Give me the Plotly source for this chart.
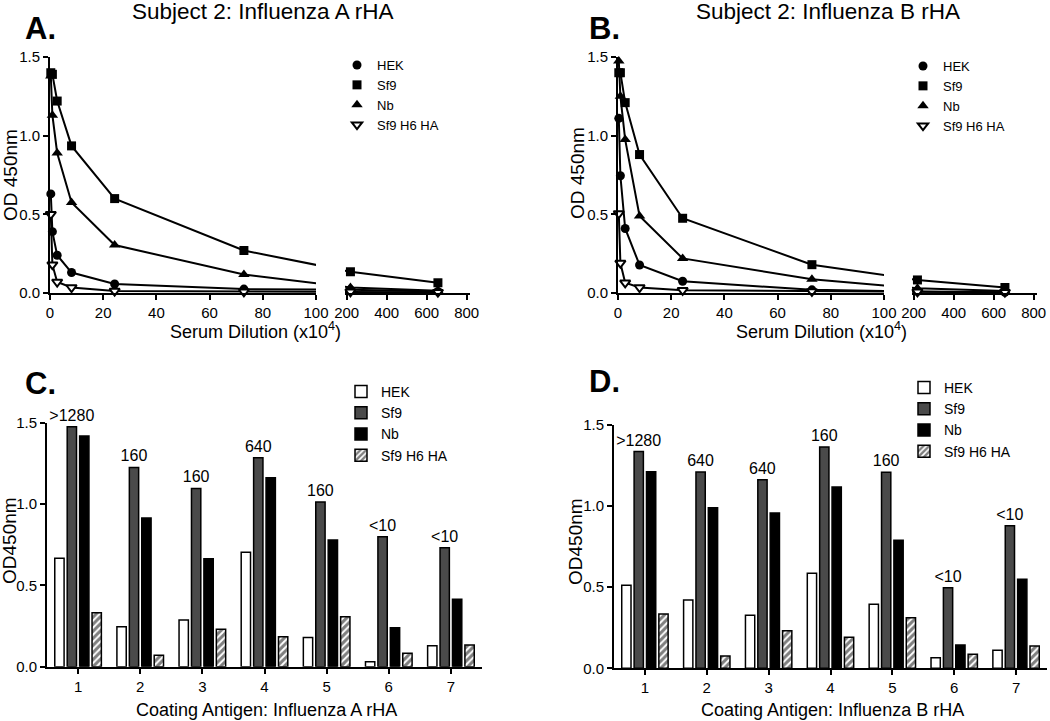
import plotly.graph_objects as go

W, H = 1050, 721
FONT = "Liberation Sans, Arial, Helvetica, sans-serif"

# ---- data: dilution curves (x10^4) ----
dilution = [0.3, 0.9, 2.7, 8.1, 24.3, 72.9, 218.7, 656.1]

a_hek = [0.63, 0.39, 0.24, 0.13, 0.057, 0.025, 0.02, 0.01]
a_sf9 = [1.40, 1.39, 1.22, 0.935, 0.60, 0.27, 0.135, 0.065]
a_nb = [1.38, 1.13, 0.89, 0.575, 0.305, 0.117, 0.035, 0.015]
a_h6 = [0.50, 0.18, 0.07, 0.035, 0.012, 0.008, 0.008, 0.005]

b_hek = [1.11, 0.745, 0.41, 0.178, 0.075, 0.02, 0.01, 0.005]
b_sf9 = [1.40, 1.40, 1.21, 0.88, 0.475, 0.18, 0.083, 0.035]
b_nb = [1.475, 1.25, 0.975, 0.49, 0.22, 0.087, 0.03, 0.012]
b_h6 = [0.505, 0.19, 0.065, 0.035, 0.017, 0.01, 0.008, 0.005]

# ---- data: coating antigen bars ----
antigens = [1, 2, 3, 4, 5, 6, 7]
c_hek = [0.666, 0.246, 0.287, 0.703, 0.18, 0.031, 0.129]
c_sf9 = [1.475, 1.225, 1.096, 1.285, 1.012, 0.799, 0.731]
c_nb = [1.418, 0.914, 0.664, 1.162, 0.779, 0.24, 0.414]
c_h6 = [0.332, 0.07, 0.23, 0.184, 0.307, 0.082, 0.133]
c_titer = [">1280", "160", "160", "640", "160", "<10", "<10"]

d_hek = [0.512, 0.421, 0.327, 0.586, 0.395, 0.065, 0.111]
d_sf9 = [1.336, 1.21, 1.163, 1.364, 1.208, 0.497, 0.879]
d_nb = [1.212, 0.99, 0.957, 1.118, 0.789, 0.144, 0.549]
d_h6 = [0.335, 0.076, 0.232, 0.191, 0.312, 0.086, 0.137]
d_titer = [">1280", "640", "640", "160", "160", "<10", "<10"]

series = ["HEK", "Sf9", "Nb", "Sf9 H6 HA"]
SF9_GREY = "#4a4a4a"


def xdom(a, b):
    return [a / W, b / W]


def ydom(top, bottom):
    return [1 - bottom / H, 1 - top / H]


SEG1_RANGE = [0, 100]
SEG2_RANGE = [191.5, 816.5]

# panel layout in pixels: (seg1 left, seg1 right, seg2 left, seg2 right)
panels = {
    "A": dict(seg=(50, 316, 345, 470), ax=("x", "x2"), yax="y", legend="legend",
              data=[a_hek, a_sf9, a_nb, a_h6]),
    "B": dict(seg=(618, 884, 912, 1037), ax=("x3", "x4"), yax="y2", legend="legend2",
              data=[b_hek, b_sf9, b_nb, b_h6]),
}

markers = [
    dict(symbol="circle", size=9, color="black"),
    dict(symbol="square", size=9, color="black"),
    dict(symbol="triangle-up", size=10, color="black"),
    dict(symbol="triangle-down", size=9, color="white", line=dict(color="black", width=2)),
]

fig = go.Figure()


def broken_positions(seg, values):
    """GraphPad-style broken axis: lines are straight in screen space across the gap."""
    p0, p1, q0, q1 = seg
    k1 = (p1 - p0) / (SEG1_RANGE[1] - SEG1_RANGE[0])
    k2 = (q1 - q0) / (SEG2_RANGE[1] - SEG2_RANGE[0])
    px = [p0 + v * k1 if v <= SEG1_RANGE[1] else q0 + (v - SEG2_RANGE[0]) * k2 for v in values]
    u1 = [(p - p0) / k1 for p in px]
    u2 = [SEG2_RANGE[0] + (p - q0) / k2 for p in px]
    return u1, u2


for key, pan in panels.items():
    xa1, xa2 = pan["ax"]
    u1, u2 = broken_positions(pan["seg"], dilution)
    for name, vals in zip(series, pan["data"]):
        for xa, u in ((xa1, u1), (xa2, u2)):
            fig.add_trace(go.Scatter(x=u, y=vals, mode="lines", xaxis=xa, yaxis=pan["yax"],
                                     line=dict(color="black", width=2), showlegend=False,
                                     hoverinfo="skip"))
    for name, vals, mk in zip(series, pan["data"], markers):
        lo = [(d, v) for d, v in zip(dilution, vals) if d <= 100]
        hi = [(d, v) for d, v in zip(dilution, vals) if d > 100]
        fig.add_trace(go.Scatter(x=[d for d, _ in lo], y=[v for _, v in lo], mode="markers",
                                 xaxis=xa1, yaxis=pan["yax"], marker=mk, name=name,
                                 legend=pan["legend"], cliponaxis=False))
        fig.add_trace(go.Scatter(x=[d for d, _ in hi], y=[v for _, v in hi], mode="markers",
                                 xaxis=xa2, yaxis=pan["yax"], marker=mk, name=name,
                                 showlegend=False, cliponaxis=False))

bar_styles = [
    dict(color="white", line=dict(color="black", width=1.5)),
    dict(color=SF9_GREY, line=dict(color="black", width=1.5)),
    dict(color="black", line=dict(color="black", width=1.5)),
    dict(color="white", line=dict(color="black", width=1.5),
         pattern=dict(shape="/", fgcolor="black", bgcolor="white", size=5, solidity=0.6)),
]

for xa, ya, leg, data, titer in (("x5", "y3", "legend3", [c_hek, c_sf9, c_nb, c_h6], c_titer),
                                 ("x6", "y4", "legend4", [d_hek, d_sf9, d_nb, d_h6], d_titer)):
    for i, (name, vals, st) in enumerate(zip(series, data, bar_styles)):
        kw = {}
        if name == "Sf9":
            kw = dict(text=titer, textposition="outside", constraintext="none",
                      textfont=dict(size=16, color="black", family=FONT), cliponaxis=False)
        fig.add_trace(go.Bar(x=antigens, y=vals, name=name, marker=st, xaxis=xa, yaxis=ya,
                             legend=leg, offsetgroup=str(i), **kw))

axis_common = dict(showline=True, linecolor="black", linewidth=2, ticks="outside",
                   ticklen=5, tickwidth=2, tickcolor="black", showgrid=False, zeroline=False,
                   automargin=False, tickfont=dict(size=15, color="black", family=FONT))

yd_top = ydom(57, 293)
yd_bot_c = ydom(422.7, 666.7)
yd_bot_d = ydom(425, 668.3)

fig.update_layout(
    width=W, height=H, margin=dict(l=0, r=0, t=0, b=0, autoexpand=False),
    paper_bgcolor="white", plot_bgcolor="white",
    font=dict(family=FONT, color="black"),
    barmode="group", bargap=0.2, bargroupgap=0.25,
    xaxis=dict(domain=xdom(50, 316), range=SEG1_RANGE, anchor="y", tickvals=[0, 20, 40, 60, 80, 100], **axis_common),
    xaxis2=dict(domain=xdom(345, 470), range=SEG2_RANGE, anchor="y", tickvals=[200, 400, 600, 800], **axis_common),
    xaxis3=dict(domain=xdom(618, 884), range=SEG1_RANGE, anchor="y2", tickvals=[0, 20, 40, 60, 80, 100], **axis_common),
    xaxis4=dict(domain=xdom(912, 1037), range=SEG2_RANGE, anchor="y2", tickvals=[200, 400, 600, 800], **axis_common),
    xaxis5=dict(domain=xdom(47, 482), range=[0.5, 7.5], anchor="y3", tickvals=antigens, **axis_common),
    xaxis6=dict(domain=xdom(614, 1047), range=[0.5, 7.5], anchor="y4", tickvals=antigens, **axis_common),
    yaxis=dict(domain=yd_top, range=[0, 1.5], anchor="x", dtick=0.5, tickformat=".1f", **axis_common),
    yaxis2=dict(domain=yd_top, range=[0, 1.5], anchor="x3", dtick=0.5, tickformat=".1f", **axis_common),
    yaxis3=dict(domain=yd_bot_c, range=[0, 1.5], anchor="x5", dtick=0.5, tickformat=".1f", **axis_common),
    yaxis4=dict(domain=yd_bot_d, range=[0, 1.5], anchor="x6", dtick=0.5, tickformat=".1f", **axis_common),
)

legend_common = dict(xanchor="left", yanchor="top", bgcolor="rgba(0,0,0,0)",
                     itemwidth=30, traceorder="normal")
small = dict(size=13, color="black", family=FONT)
big = dict(size=14, color="black", family=FONT)
fig.update_layout(
    legend=dict(x=337 / W, y=1 - 50 / H, font=small, **legend_common),
    legend2=dict(x=903 / W, y=1 - 51 / H, font=small, **legend_common),
    legend3=dict(x=341 / W, y=1 - 376 / H, font=big, **legend_common),
    legend4=dict(x=904 / W, y=1 - 372 / H, font=big, **legend_common),
)


def note(text, x, y, size, angle=0):
    fig.add_annotation(text=text, x=x / W, y=1 - y / H, xref="paper", yref="paper",
                       showarrow=False, textangle=angle, xanchor="center", yanchor="middle",
                       font=dict(size=size, color="black", family=FONT))


note("Subject 2: Influenza A rHA", 262, 12, 22.5)
note("Subject 2: Influenza B rHA", 828, 12, 22.5)
note("<b>A.</b>", 40, 29, 31)
note("<b>B.</b>", 604, 29, 31)
note("<b>C.</b>", 40, 383, 31)
note("<b>D.</b>", 604, 381, 31)
note("Serum Dilution (x10<sup>4</sup>)", 255, 330, 18)
note("Serum Dilution (x10<sup>4</sup>)", 821, 330, 18)
note("OD 450nm", 10, 175, 19, -90)
note("OD 450nm", 577, 173, 19, -90)
note("OD450nm", 9, 541, 19, -90)
note("OD450nm", 575, 542, 19, -90)
note("Coating Antigen: Influenza A rHA", 266, 710, 18)
note("Coating Antigen: Influenza B rHA", 832, 710, 18)

# the page body has a default 8px margin; drop it so the figure sits at the window origin
fig.write_html("out.html", config={"displayModeBar": False},
               post_script="document.body.style.margin = '0';")
